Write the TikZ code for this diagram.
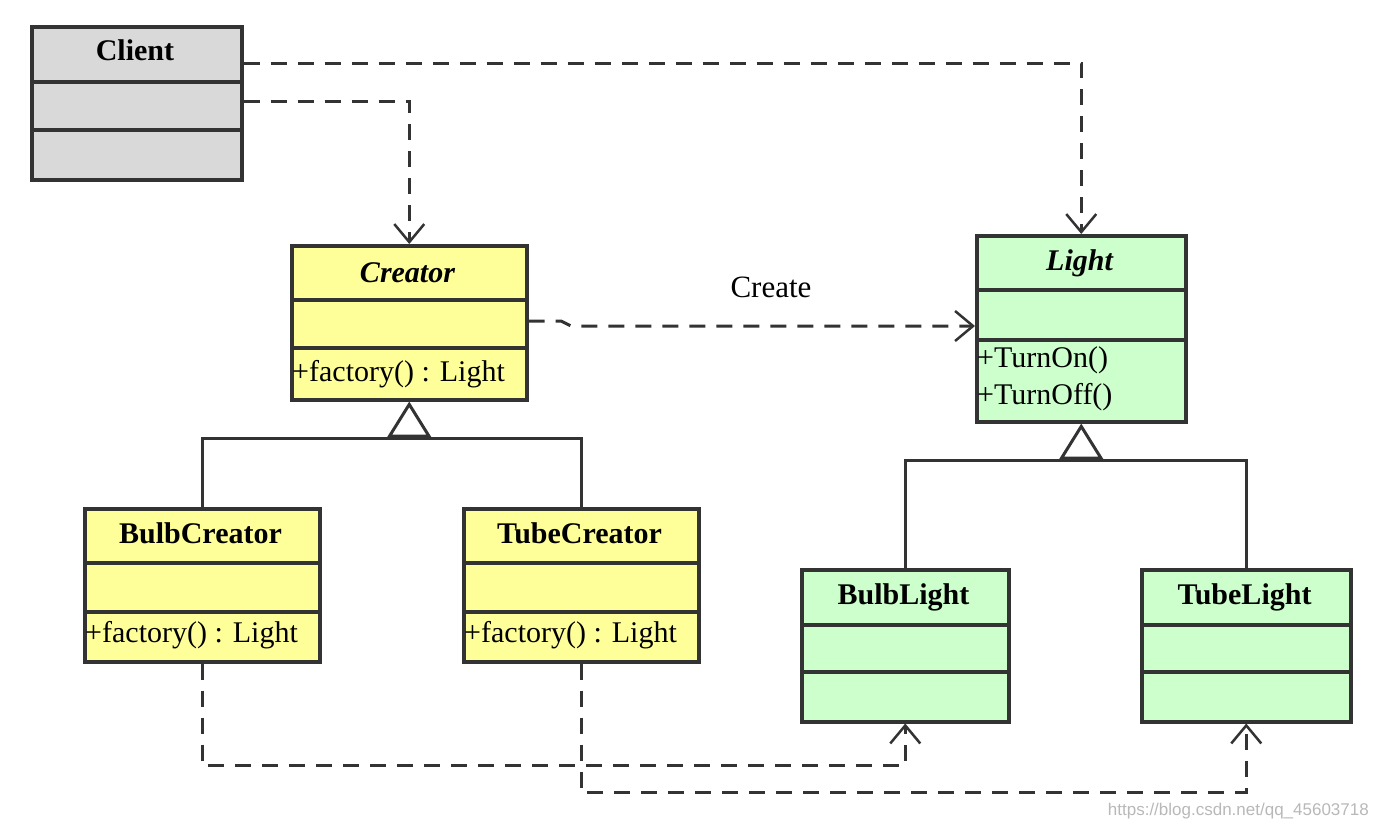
\documentclass[tikz,border=0pt]{standalone}
\usepackage{fontspec}
\setmainfont{Liberation Serif}
\newfontfamily\wmfont{Liberation Sans}
\usetikzlibrary{arrows.meta}
\definecolor{linec}{HTML}{333333}
\definecolor{grayf}{HTML}{D9D9D9}
\definecolor{yellowf}{HTML}{FFFF99}
\definecolor{greenf}{HTML}{CCFFCC}
\definecolor{wmc}{HTML}{B8B8B8}
\tikzset{
  cls/.style={draw=linec, line width=3.5pt, rectangle, inner sep=0pt, anchor=north west},
  sepline/.style={draw=linec, line width=3.5pt},
  ttl/.style={anchor=base, inner sep=0pt, font=\fontsize{30}{34}\selectfont\bfseries},
  ittl/.style={anchor=base, inner sep=0pt, font=\fontsize{30}{34}\selectfont\bfseries\itshape},
  meth/.style={anchor=base west, inner sep=0pt, font=\fontsize{30}{34}\selectfont},
  dep/.style={draw=linec, line width=3pt, dash pattern=on 16pt off 11pt,
     -{Straight Barb[length=18pt,width=30pt,line width=2.5pt]}},
  gen/.style={draw=linec, line width=3pt,
     -{Triangle[open,length=36pt,width=44pt,line width=3pt]}},
  genline/.style={draw=linec, line width=3pt},
}
\begin{document}
\begin{tikzpicture}[x=1pt,y=-1pt]
\useasboundingbox (0,0) rectangle (1377,827);
% Client
\node[cls, fill=grayf, minimum width=210pt, minimum height=153pt] (client) at (30,25) {};
\draw[sepline] (30,82) -- (240,82);
\draw[sepline] (30,130) -- (240,130);
\node[ttl] (clientT) at (135,60) {Client};
% Creator
\node[cls, fill=yellowf, minimum width=235pt, minimum height=154pt] (creator) at (290,244) {};
\draw[sepline] (290,300) -- (525,300);
\draw[sepline] (290,348) -- (525,348);
\node[ittl] (creatorT) at (407.5,282) {Creator};
\node[meth] (creatorM) at (292,381) {+factory() : Light};
% Light
\node[cls, fill=greenf, minimum width=209pt, minimum height=186pt] (light) at (975,234) {};
\draw[sepline] (975,290) -- (1184,290);
\draw[sepline] (975,340) -- (1184,340);
\node[ittl] (lightT) at (1079.5,270) {Light};
\node[meth] (lightM1) at (977,367) {+TurnOn()};
\node[meth] (lightM2) at (977,404) {+TurnOff()};
% BulbCreator
\node[cls, fill=yellowf, minimum width=235pt, minimum height=153pt] (bulbc) at (83,507) {};
\draw[sepline] (83,563) -- (318,563);
\draw[sepline] (83,612) -- (318,612);
\node[ttl] (bulbcT) at (200.5,543) {BulbCreator};
\node[meth] (bulbcM) at (85,642) {+factory() : Light};
% TubeCreator
\node[cls, fill=yellowf, minimum width=235pt, minimum height=153pt] (tubec) at (462,507) {};
\draw[sepline] (462,563) -- (697,563);
\draw[sepline] (462,612) -- (697,612);
\node[ttl] (tubecT) at (579.5,543) {TubeCreator};
\node[meth] (tubecM) at (464,642) {+factory() : Light};
% BulbLight
\node[cls, fill=greenf, minimum width=207pt, minimum height=152pt] (bulbl) at (800,568) {};
\draw[sepline] (800,625) -- (1007,625);
\draw[sepline] (800,672) -- (1007,672);
\node[ttl] (bulblT) at (903.5,604) {BulbLight};
% TubeLight
\node[cls, fill=greenf, minimum width=209pt, minimum height=152pt] (tubel) at (1140,568) {};
\draw[sepline] (1140,625) -- (1349,625);
\draw[sepline] (1140,672) -- (1349,672);
\node[ttl] (tubelT) at (1244.5,604) {TubeLight};
% Client dependencies
\draw[dep] (client.east |- 0,63) -| (light.north);
\draw[dep] (client.east |- 0,101) -| (creator.north);
% Create dependency
\draw[dep] (creator.east |- 0,321) -- (561,321) -- (571,326) -- (light.west |- 0,326);
\node[anchor=base, inner sep=0pt, font=\fontsize{31}{34}\selectfont] (createL) at (771,297) {Create};
% Generalizations
\coordinate (cj) at (creator.south |- 0,438);
\draw[genline] (bulbc.north) |- (cj) -| (tubec.north);
\draw[gen] (cj) -- (creator.south);
\coordinate (lj) at (light.south |- 0,460);
\draw[genline] (bulbl.north) |- (lj) -| (tubel.north);
\draw[gen] (lj) -- (light.south);
% Factory dependencies
\draw[dep] (bulbc.south) -- ++(0,102) -| (bulbl.south);
\draw[dep] (tubec.south) -- ++(0,129) -| (tubel.south);
% watermark
\node[anchor=base east, inner sep=0pt, text=wmc, font=\wmfont\fontsize{17}{20}\selectfont] (wm) at (1369,815) {https://blog.csdn.net/qq\_45603718};
\end{tikzpicture}
\end{document}
